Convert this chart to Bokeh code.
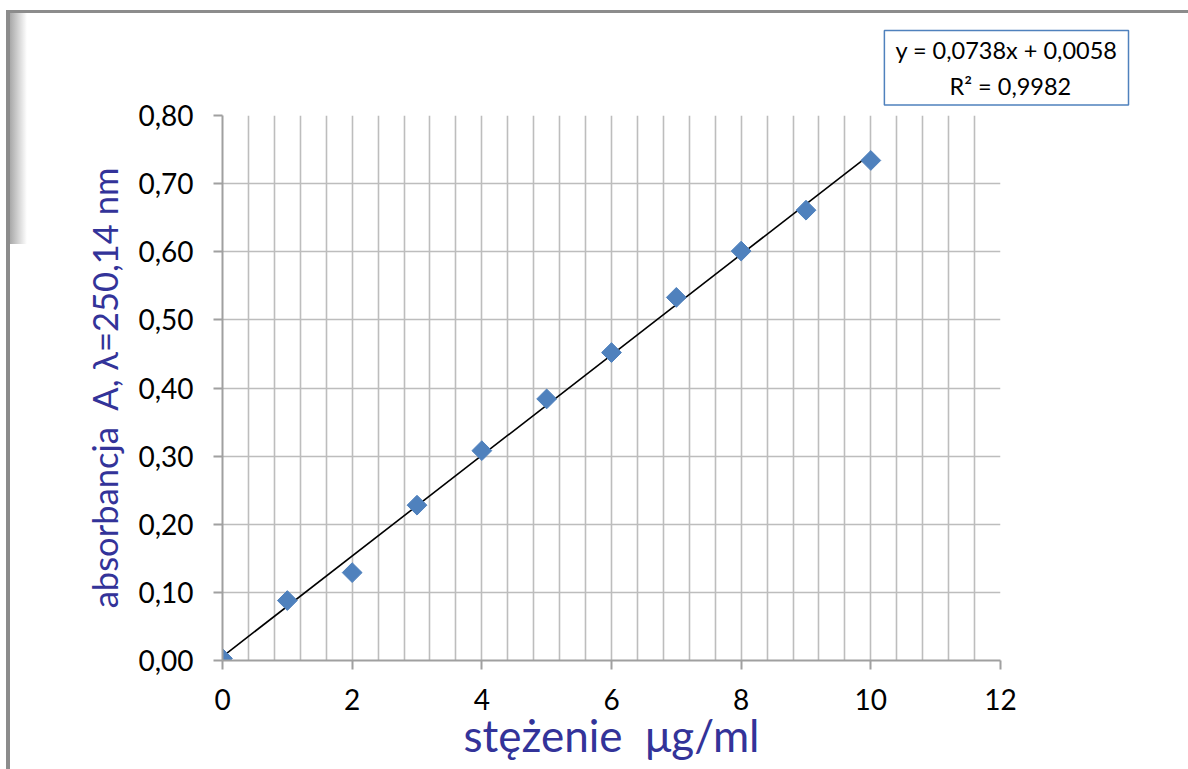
import numpy as np
from bokeh.plotting import figure
from bokeh.models import (Range1d, SingleIntervalTicker, CustomJSTickFormatter,
                          Title, ColumnDataSource)
from bokeh.embed import file_html
from bokeh.resources import INLINE

# ---- data ----
concentration = [0, 1, 2, 3, 4, 5, 6, 7, 8, 9, 10]
absorbance = [0.003, 0.088, 0.129, 0.228, 0.308, 0.384, 0.452, 0.533, 0.601, 0.661, 0.734]
slope = 0.0738
intercept = 0.0058
r_squared = 0.9982
trend_x = [0, 10]
eq_line1 = "y = 0,0738x + 0,0058"
eq_line2 = "R² = 0,9982"
x_title = "stężenie\u00a0\u00a0μg/ml"
y_title = "absorbancja\u00a0\u00a0A, λ=250,14 nm"

W, H = 1188, 769
FL, FT, FR, FB = 222, 115, 1000, 660  # frame pixel box

frame_css = (
    "linear-gradient(#8c8c8c, #8c8c8c) 6px 10px / 4px 759px no-repeat, "
    "linear-gradient(#8c8c8c, #8c8c8c) 6px 10px / 1182px 3px no-repeat, "
    "linear-gradient(to right, rgba(140,140,140,0.75), rgba(140,140,140,0.0)) 10px 13px / 17px 231px no-repeat, "
    "white"
)

p = figure(width=W, height=H, output_backend="svg", toolbar_location=None,
           x_range=Range1d(0, 12), y_range=Range1d(0, 0.8),
           min_border_left=FL, min_border_right=W - FR,
           min_border_top=FT, min_border_bottom=H - FB,
           background_fill_color="white", border_fill_color=None,
           styles={"background": frame_css})
p.outline_line_color = None

# axes
FONT = "Lato"
for ax in (p.xaxis[0], p.yaxis[0]):
    ax.axis_line_color = "#a0a0a0"
    ax.axis_line_width = 2
    ax.major_tick_line_color = "#a0a0a0"
    ax.major_tick_line_width = 2
    ax.major_tick_in = 0
    ax.major_tick_out = 9
    ax.minor_tick_line_color = None
    ax.major_label_text_font = FONT
    ax.major_label_text_font_size = "28px"
    ax.major_label_text_color = "black"
    ax.axis_label_text_font = FONT
    ax.axis_label_text_font_style = "normal"
    ax.axis_label_text_color = "#333399"

p.xaxis[0].ticker = SingleIntervalTicker(interval=2)
p.yaxis[0].ticker = SingleIntervalTicker(interval=0.1)
p.yaxis[0].formatter = CustomJSTickFormatter(code="return tick.toFixed(2).replace('.', ',');")
p.xaxis[0].major_label_standoff = 19
p.yaxis[0].major_label_standoff = 20
p.xaxis[0].axis_label = x_title
p.yaxis[0].axis_label = y_title
p.xaxis[0].axis_label_text_font_size = "44px"
p.yaxis[0].axis_label_text_font_size = "34.5px"
p.xaxis[0].axis_label_standoff = -4
p.yaxis[0].axis_label_standoff = 10

# grid
p.xgrid[0].ticker = SingleIntervalTicker(interval=0.4)
p.ygrid[0].ticker = SingleIntervalTicker(interval=0.1)
for g in (p.xgrid[0], p.ygrid[0]):
    g.grid_line_color = "#bdbdbd"
    g.grid_line_width = 1.6

# trend line
trend_y = [slope * v + intercept for v in trend_x]
p.line(trend_x, trend_y, line_color="black", line_width=1.6)

# points
src = ColumnDataSource(dict(x=concentration, y=absorbance))
p.scatter("x", "y", source=src, marker="square", angle=np.pi / 4, size=14,
          fill_color="#4f81bd", line_color="#4f81bd")

# equation box (title above the frame, pushed to the right; second line centred)
equation_text = eq_line1 + "\n" + "\u00a0" * 9 + eq_line2
eq = Title(text=equation_text, align="right", offset=-128, standoff=21,
           text_font=FONT, text_font_size="23.5px", text_font_style="normal",
           text_color="black", text_line_height=1.3,
           border_line_color="#4f81bd", border_line_width=1.5,
           background_fill_color="white", padding=(11, 5))
p.add_layout(eq, "above")

open("out.html", "w").write(file_html(p, INLINE))
